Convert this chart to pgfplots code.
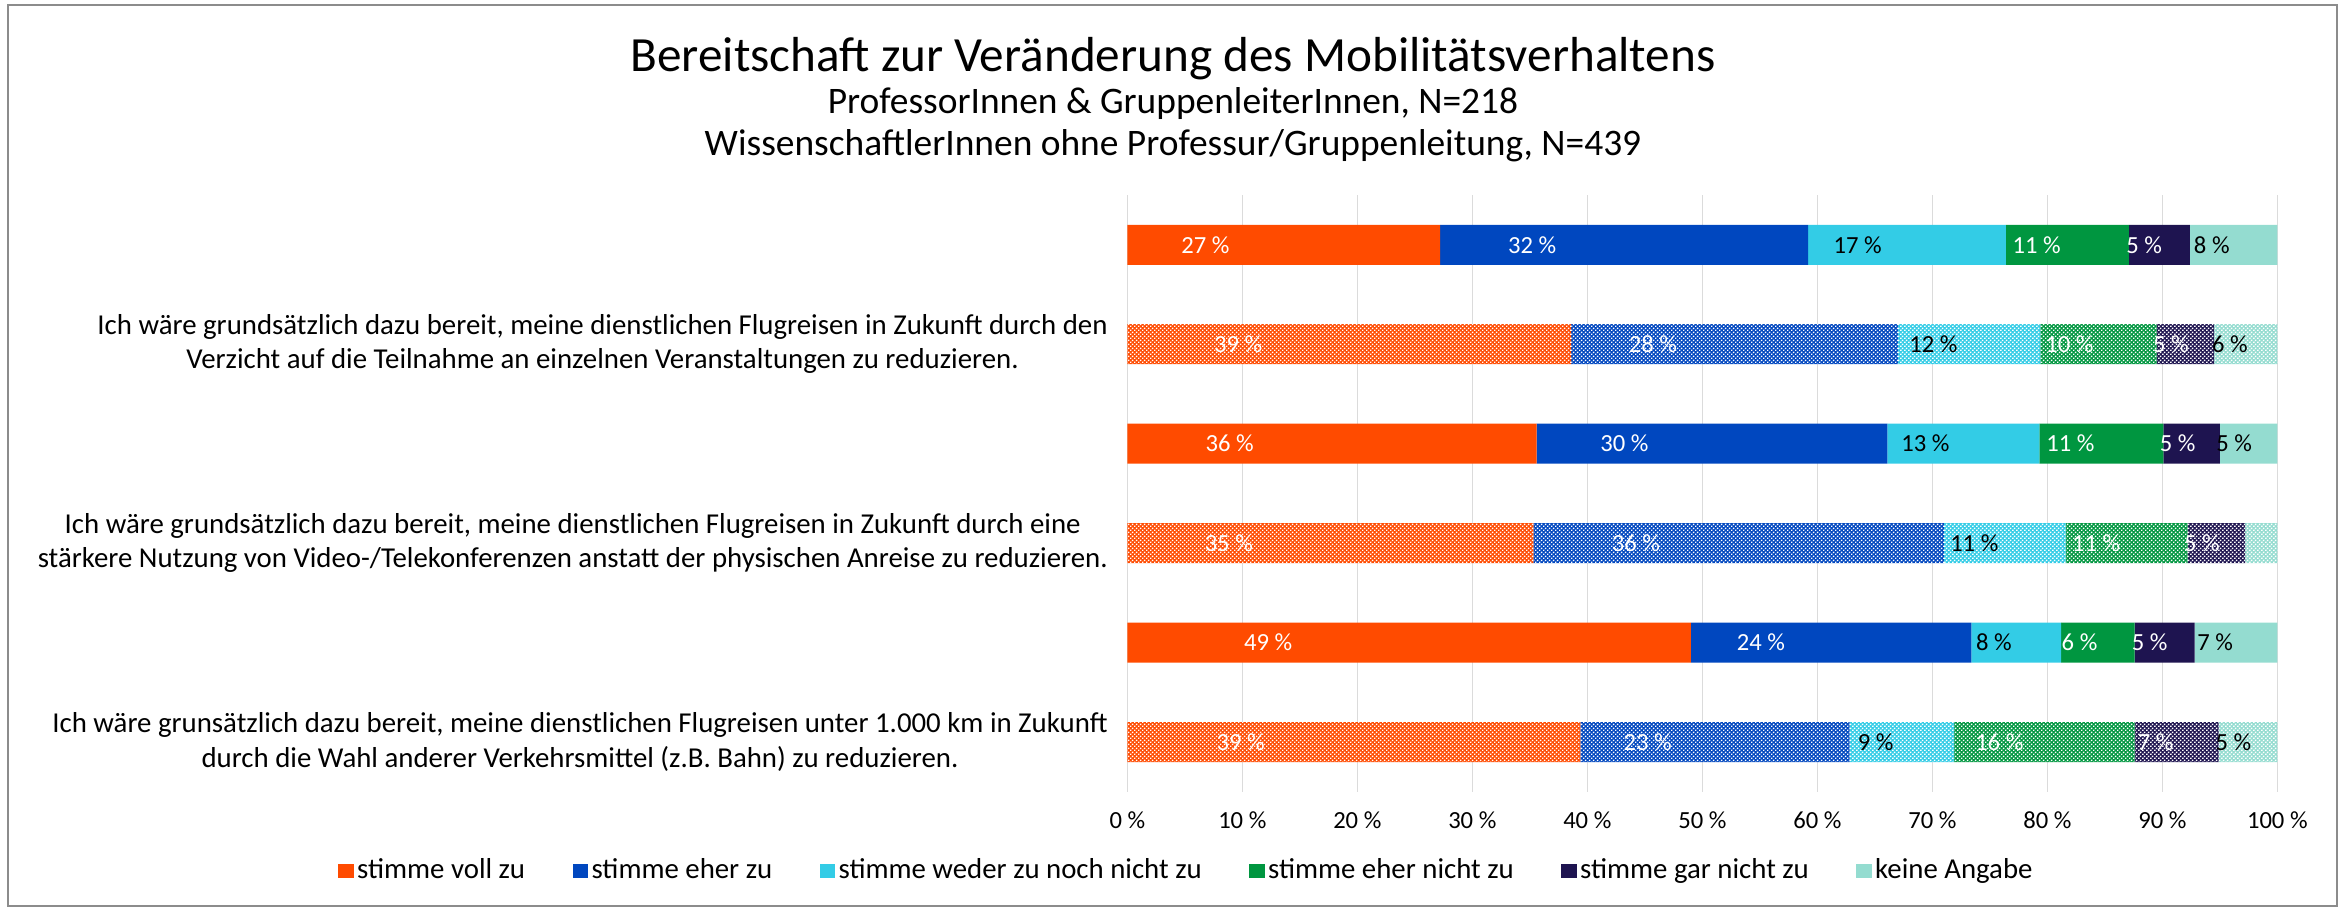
\documentclass[border=0pt]{standalone}
\usepackage{fontspec}
\setmainfont{Carlito}
\usepackage{pgfplots}
\usepackage{pgfplotstable}
\pgfplotsset{compat=1.18}
\usetikzlibrary{patterns}

\definecolor{cVoll}{HTML}{FF4B00}
\definecolor{cEher}{HTML}{0047BF}
\definecolor{cWeder}{HTML}{33CCE6}
\definecolor{cEherNicht}{HTML}{009640}
\definecolor{cGarNicht}{HTML}{1E1450}
\definecolor{cKeine}{HTML}{94DCD0}

\pgfdeclarepatternformonly{checker}{\pgfpointorigin}{\pgfpoint{0.44mm}{0.44mm}}{\pgfpoint{0.44mm}{0.44mm}}{
  \pgfpathrectangle{\pgfpointorigin}{\pgfpoint{0.17mm}{0.17mm}}
  \pgfpathrectangle{\pgfpoint{0.22mm}{0.22mm}}{\pgfpoint{0.17mm}{0.17mm}}
  \pgfusepath{fill}
}

% ProfessorInnen & GruppenleiterInnen (solid bars, rows 0,2,4)
\pgfplotstableread{
y v1   v2   v3   v4   v5  v6  l1 l2 l3 l4 l5 l6
0 27.2 32.0 17.2 10.7 5.3 7.6 27 32 17 11 5 8
1 0    0    0    0    0   0   0  0  0  0  0  0
2 35.6 30.5 13.2 10.8 4.9 5.0 36 30 13 11 5 5
3 0    0    0    0    0   0   0  0  0  0  0  0
4 49.0 24.4 7.8  6.4  5.2 7.2 49 24 8  6  5 7
5 0    0    0    0    0   0   0  0  0  0  0  0
}\profs

% WissenschaftlerInnen ohne Professur/Gruppenleitung (hatched bars, rows 1,3,5)
\pgfplotstableread{
y v1   v2   v3   v4   v5  v6  l1 l2 l3 l4 l5 l6
0 0    0    0    0    0   0   0  0  0  0  0  0
1 38.6 28.4 12.4 10.1 5.0 5.5 39 28 12 10 5 6
2 0    0    0    0    0   0   0  0  0  0  0  0
3 35.3 35.7 10.6 10.6 5.0 2.8 35 36 11 11 5 0
4 0    0    0    0    0   0   0  0  0  0  0  0
5 39.4 23.4 9.1  15.7 7.3 5.1 39 23 9  16 7 5
}\wiss

\newcommand{\lfont}{\fontsize{7}{8.4}\selectfont}
\newcommand{\sq}[1]{\addlegendimage{legend image code/.code={\fill[#1] (0mm,-0.65mm) rectangle (1.4mm,0.65mm);}}}

\pgfplotsset{
  seg/.style n args={3}{
    forget plot, fill=#2, draw=none,
    point meta=explicit symbolic,
    visualization depends on={\thisrow{v#1} \as \rawv},
    every node near coord/.append style={text=#3},
  },
  hatch/.style={postaction={pattern=checker, pattern color=white}},
}

\begin{document}
\begin{tikzpicture}
\useasboundingbox (0,0) rectangle (234.8mm,-90.8mm);
\draw[black!45, line width=0.25mm] (0.8mm,-0.5mm) rectangle (233.7mm,-90.6mm);

\node[font=\fontsize{14}{16}\selectfont] at (117.3mm,-5.9mm) {Bereitschaft zur Veränderung des Mobilitätsverhaltens};
\node[font=\fontsize{10.65}{12}\selectfont] at (117.3mm,-10.4mm) {ProfessorInnen \& GruppenleiterInnen, N=218};
\node[font=\fontsize{10.65}{12}\selectfont] at (117.3mm,-14.6mm) {WissenschaftlerInnen ohne Professur/Gruppenleitung, N=439};

\begin{axis}[
    at={(112.73mm,-79.17mm)}, anchor=south west,
    scale only axis,
    width=115mm, height=59.67mm,
    xbar stacked,
    bar width=4mm,
    y dir=reverse,
    xmin=0, xmax=100,
    ymin=-0.5, ymax=5.5,
    enlargelimits=false,
    axis line style={draw=none},
    major tick length=0pt,
    xtick={0,10,...,100},
    xmajorgrids,
    grid style={draw=black!14, line width=0.16mm},
    /pgf/number format/assume math mode=true,
    xticklabel={\pgfmathprintnumber{\tick}~\%},
    xticklabel style={font=\lfont, anchor=north, inner sep=0pt, yshift=-1.9mm},
    ytick={1,3,5},
    yticklabels={
      {Ich wäre grundsätzlich dazu bereit, meine dienstlichen Flugreisen in Zukunft durch den\\Verzicht auf die Teilnahme an einzelnen Veranstaltungen zu reduzieren.},
      {Ich wäre grundsätzlich dazu bereit, meine dienstlichen Flugreisen in Zukunft durch eine\\stärkere Nutzung von Video-/Telekonferenzen anstatt der physischen Anreise zu reduzieren.},
      {Ich wäre grunsätzlich dazu bereit, meine dienstlichen Flugreisen unter 1.000 km in Zukunft\\durch die Wahl anderer Verkehrsmittel (z.B. Bahn) zu reduzieren.}},
    yticklabel style={font=\fontsize{8.2}{9.7}\selectfont, align=center, anchor=east,
      inner sep=0pt, xshift=-1.9mm},
    nodes near coords={\ifdim\pgfplotspointmeta pt=0pt \else\pgfplotspointmeta~\%\fi},
    every node near coord/.style={font=\lfont, anchor=center, xshift=-0.2875mm*\rawv},
    legend columns=6,
    legend style={draw=none, font=\fontsize{8.2}{9.8}\selectfont, at={(0.052,-0.133)}, anchor=center,
      /tikz/every even column/.append style={column sep=4.4mm},
      nodes={inner sep=0.35mm}},
]
% solid series: ProfessorInnen & GruppenleiterInnen
\addplot[seg={1}{cVoll}{white}] table[x=v1, y=y, meta=l1] {\profs};
\addplot[seg={2}{cEher}{white}] table[x=v2, y=y, meta=l2] {\profs};
\addplot[seg={3}{cWeder}{black}] table[x=v3, y=y, meta=l3] {\profs};
\addplot[seg={4}{cEherNicht}{white}] table[x=v4, y=y, meta=l4] {\profs};
\addplot[seg={5}{cGarNicht}{white}] table[x=v5, y=y, meta=l5] {\profs};
\addplot[seg={6}{cKeine}{black}] table[x=v6, y=y, meta=l6] {\profs};
% hatched series: WissenschaftlerInnen
\addplot[seg={1}{cVoll}{white}, hatch] table[x=v1, y=y, meta=l1] {\wiss};
\addplot[seg={2}{cEher}{white}, hatch] table[x=v2, y=y, meta=l2] {\wiss};
\addplot[seg={3}{cWeder}{black}, hatch] table[x=v3, y=y, meta=l3] {\wiss};
\addplot[seg={4}{cEherNicht}{white}, hatch] table[x=v4, y=y, meta=l4] {\wiss};
\addplot[seg={5}{cGarNicht}{white}, hatch] table[x=v5, y=y, meta=l5] {\wiss};
\addplot[seg={6}{cKeine}{black}, hatch] table[x=v6, y=y, meta=l6] {\wiss};
\sq{cVoll}\addlegendentry{stimme voll zu}
\sq{cEher}\addlegendentry{stimme eher zu}
\sq{cWeder}\addlegendentry{stimme weder zu noch nicht zu}
\sq{cEherNicht}\addlegendentry{stimme eher nicht zu}
\sq{cGarNicht}\addlegendentry{stimme gar nicht zu}
\sq{cKeine}\addlegendentry{keine Angabe}
\end{axis}
\end{tikzpicture}
\end{document}
